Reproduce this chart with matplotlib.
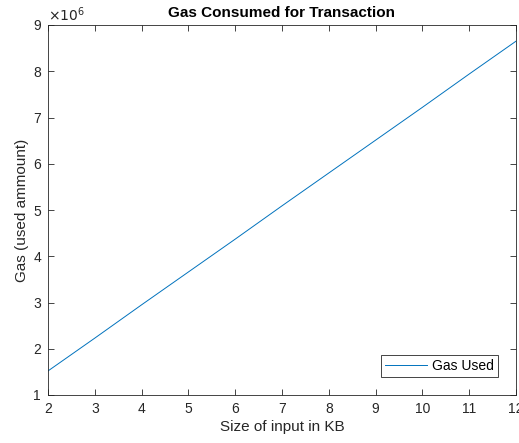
import numpy as np
import matplotlib
matplotlib.use("Agg")
import matplotlib.pyplot as plt

# data
sizeKB = [2, 3, 4, 5, 6, 7, 8, 9, 10, 11, 12]
gasUsed = [1.52e6, 2.23e6, 2.95e6, 3.66e6, 4.37e6, 5.09e6, 5.80e6, 6.51e6, 7.22e6, 7.94e6, 8.65e6]

plt.rcParams['font.family'] = ['Liberation Sans', 'DejaVu Sans']
axisColor = '#262626'

fig = plt.figure(figsize=(5.19, 4.43), dpi=100)
ax = fig.add_axes([48/519, 48/443, 468/519, 370/443])

ax.plot(sizeKB, gasUsed, color='#0072BD', linewidth=0.7, label='Gas Used')

ax.set_xlim(2, 12)
ax.set_ylim(1e6, 9e6)
ax.set_xticks(range(2, 13))
ax.set_yticks(np.arange(1e6, 9.5e6, 1e6))
ax.set_yticklabels([str(v) for v in range(1, 10)])

ax.tick_params(direction='in', length=4, width=0.6, colors=axisColor, labelsize=10,
               top=True, right=True, pad=5)
for s in ax.spines.values():
    s.set_color(axisColor)
    s.set_linewidth(0.6)

ax.text(0, 1.002, r'$\times10^{6}$', transform=ax.transAxes, fontsize=10,
        color=axisColor, ha='left', va='bottom', math_fontfamily='dejavusans')

ax.set_title('Gas Consumed for Transaction', fontsize=11, fontweight='bold', pad=6)
ax.set_xlabel('Size of input in KB', fontsize=11, color=axisColor, labelpad=3)
ax.set_ylabel('Gas (used ammount)', fontsize=11, color=axisColor, labelpad=3)

leg = ax.legend(loc='lower right', fontsize=10, fancybox=False, framealpha=1,
                edgecolor=axisColor, borderaxespad=1.3, handlelength=3.0,
                handletextpad=0.35, borderpad=0.3)
leg.get_frame().set_linewidth(0.6)

fig.savefig('out.png', dpi=100)
